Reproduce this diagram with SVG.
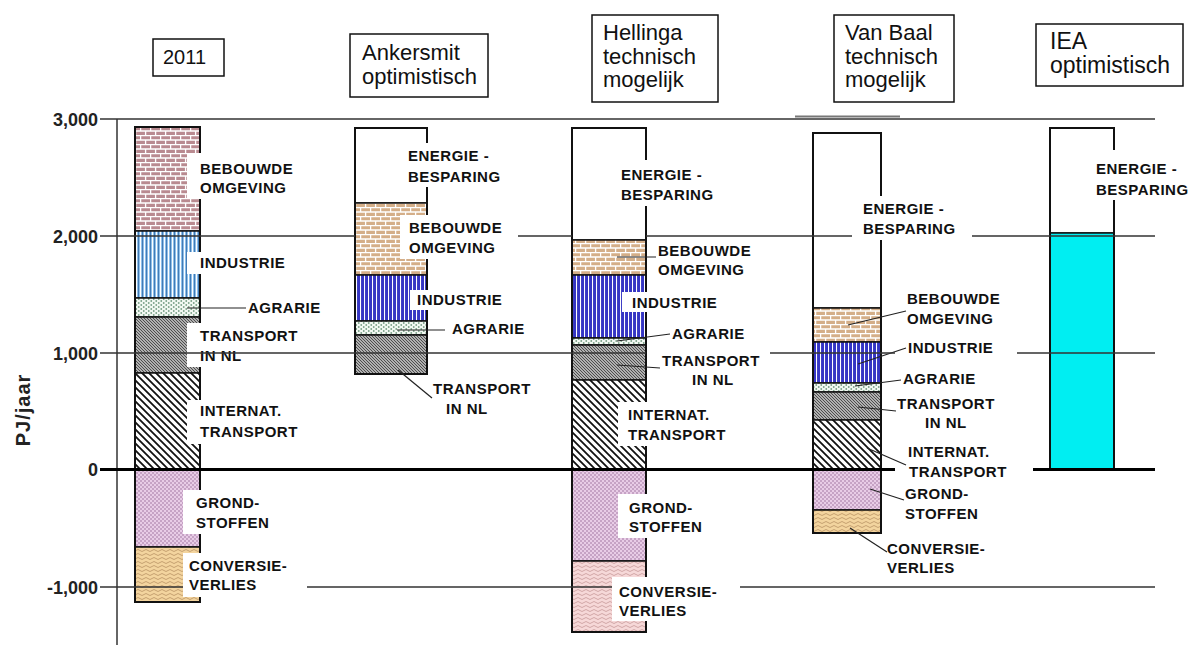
<svg xmlns="http://www.w3.org/2000/svg" width="1195" height="645" viewBox="0 0 1195 645">
<style>
.lb{font-family:"Liberation Sans",Arial,sans-serif;font-weight:bold;font-size:15px;letter-spacing:0.5px;fill:#111}
.hd{font-family:"Liberation Sans",Arial,sans-serif;font-size:22px;fill:#111}
.ax{font-family:"Liberation Sans",Arial,sans-serif;font-weight:bold;font-size:18px;fill:#222;text-anchor:end}
.seg{stroke:#111;stroke-width:1.5}
.out{fill:none;stroke:#111;stroke-width:2}
.box{fill:#fff;stroke:#111;stroke-width:1.5}
.wb{fill:#fff}
.grid{stroke:#333;stroke-width:1.5;fill:none}
.lead{stroke:#222;stroke-width:1.2;fill:none}
</style>
<defs>
<pattern id="brickR" width="10" height="9" patternUnits="userSpaceOnUse"><rect width="10" height="9" fill="#b98a90"/><path d="M0,0.5H10M0,5H10M0.6,0V4.5M5.6,4.5V9" stroke="#fff" stroke-width="1.3"/></pattern>
<pattern id="brickT" width="10" height="9" patternUnits="userSpaceOnUse"><rect width="10" height="9" fill="#d4ae88"/><path d="M0,0.5H10M0,5H10M0.6,0V4.5M5.6,4.5V9" stroke="#fff" stroke-width="1.3"/></pattern>
<pattern id="indL" width="4" height="4" patternUnits="userSpaceOnUse"><rect width="4" height="4" fill="#8fc0ea"/><path d="M0.5,0V4" stroke="#fff" stroke-width="1"/><path d="M2.5,0V4" stroke="#2f6aa8" stroke-width="0.8"/></pattern>
<pattern id="indB" width="4" height="4" patternUnits="userSpaceOnUse"><rect width="4" height="4" fill="#3535c4"/><path d="M0.5,0V4" stroke="#fff" stroke-width="1.1"/></pattern>
<pattern id="agr" width="5" height="4" patternUnits="userSpaceOnUse"><rect width="5" height="4" fill="#f2f8f2"/><circle cx="1.25" cy="1" r="0.9" fill="#7aa088"/><circle cx="3.75" cy="3" r="0.9" fill="#7aa088"/></pattern>
<pattern id="tnl" width="3" height="3" patternUnits="userSpaceOnUse"><rect width="3" height="3" fill="#b0b0b0"/><path d="M0,0L3,3M-1,2L1,4M2,-1L4,1" stroke="#333" stroke-width="0.8"/></pattern>
<pattern id="int" width="7" height="7" patternUnits="userSpaceOnUse"><rect width="7" height="7" fill="#fff"/><path d="M0,0L7,7M-1,6L1,8M6,-1L8,1" stroke="#111" stroke-width="1.8"/></pattern>
<pattern id="gr" width="4" height="4" patternUnits="userSpaceOnUse"><rect width="4" height="4" fill="#e8cce6"/><circle cx="1" cy="1" r="0.7" fill="#8a5a8a"/><circle cx="3" cy="3" r="0.7" fill="#8a5a8a"/></pattern>
<pattern id="convT" width="8" height="4" patternUnits="userSpaceOnUse"><rect width="8" height="4" fill="#f3d49e"/><path d="M0,2.5Q2,0.5 4,2.5T8,2.5" fill="none" stroke="#b08a5a" stroke-width="0.7"/></pattern>
<pattern id="convP" width="8" height="4" patternUnits="userSpaceOnUse"><rect width="8" height="4" fill="#f6d8d8"/><path d="M0,2.5Q2,0.5 4,2.5T8,2.5" fill="none" stroke="#c09090" stroke-width="0.7"/></pattern>
</defs>
<rect width="1195" height="645" fill="#fff"/>

<!-- headers -->
<g id="hdr-2011"><rect class="box" x="153" y="39" width="71" height="37"/><text class="hd" x="163" y="64" style="font-size:20px">2011</text></g>
<g id="hdr-ankersmit"><rect class="box" x="350" y="34" width="138" height="63"/><text class="hd" x="362" y="60">Ankersmit</text><text class="hd" x="362" y="84">optimistisch</text></g>
<g id="hdr-hellinga"><rect class="box" x="592" y="15" width="126" height="87"/><text class="hd" x="603" y="40">Hellinga</text><text class="hd" x="603" y="64">technisch</text><text class="hd" x="603" y="87">mogelijk</text></g>
<g id="hdr-vanbaal"><rect class="box" x="834" y="15" width="120" height="87"/><text class="hd" x="845" y="40">Van Baal</text><text class="hd" x="845" y="64">technisch</text><text class="hd" x="845" y="87">mogelijk</text></g>
<g id="hdr-iea"><rect class="box" x="1036" y="24" width="147" height="62"/><text class="hd" x="1050" y="49" style="font-size:23px">IEA</text><text class="hd" x="1050" y="73" style="font-size:23px">optimistisch</text></g>

<!-- bars -->
<g id="bar-2011">
<rect class="seg" x="135" y="127" width="65" height="104" fill="url(#brickR)"/>
<rect class="seg" x="135" y="231" width="65" height="67" fill="url(#indL)"/>
<rect class="seg" x="135" y="298" width="65" height="19" fill="url(#agr)"/>
<rect class="seg" x="135" y="317" width="65" height="56" fill="url(#tnl)"/>
<rect class="seg" x="135" y="373" width="65" height="96" fill="url(#int)"/>
<rect class="seg" x="135" y="469" width="65" height="78" fill="url(#gr)"/>
<rect class="seg" x="135" y="547" width="65" height="55" fill="url(#convT)"/>
<rect class="out" x="135" y="127" width="65" height="475"/>
</g>
<g id="bar-ankersmit">
<rect class="seg" x="355" y="128" width="72" height="75" fill="#fff"/>
<rect class="seg" x="355" y="203" width="72" height="72" fill="url(#brickT)"/>
<rect class="seg" x="355" y="275" width="72" height="46" fill="url(#indB)"/>
<rect class="seg" x="355" y="321" width="72" height="14" fill="url(#agr)"/>
<rect class="seg" x="355" y="335" width="72" height="39" fill="url(#tnl)"/>
<rect class="out" x="355" y="128" width="72" height="246"/>
</g>
<g id="bar-hellinga">
<rect class="seg" x="572" y="128" width="74" height="112" fill="#fff"/>
<rect class="seg" x="572" y="240" width="74" height="35" fill="url(#brickT)"/>
<rect class="seg" x="572" y="275" width="74" height="63" fill="url(#indB)"/>
<rect class="seg" x="572" y="338" width="74" height="7" fill="url(#agr)"/>
<rect class="seg" x="572" y="345" width="74" height="35" fill="url(#tnl)"/>
<rect class="seg" x="572" y="380" width="74" height="89" fill="url(#int)"/>
<rect class="seg" x="572" y="469" width="74" height="92" fill="url(#gr)"/>
<rect class="seg" x="572" y="561" width="74" height="71" fill="url(#convP)"/>
<rect class="out" x="572" y="128" width="74" height="504"/>
</g>
<g id="bar-vanbaal">
<rect class="seg" x="813" y="133" width="68" height="175" fill="#fff"/>
<rect class="seg" x="813" y="308" width="68" height="34" fill="url(#brickT)"/>
<rect class="seg" x="813" y="342" width="68" height="41" fill="url(#indB)"/>
<rect class="seg" x="813" y="383" width="68" height="9" fill="url(#agr)"/>
<rect class="seg" x="813" y="392" width="68" height="28" fill="url(#tnl)"/>
<rect class="seg" x="813" y="420" width="68" height="49" fill="url(#int)"/>
<rect class="seg" x="813" y="469" width="68" height="41" fill="url(#gr)"/>
<rect class="seg" x="813" y="510" width="68" height="23" fill="url(#convT)"/>
<rect class="out" x="813" y="133" width="68" height="400"/>
</g>
<g id="bar-iea">
<rect class="seg" x="1050" y="128" width="64" height="105" fill="#fff"/>
<rect class="seg" x="1050" y="233" width="64" height="236" fill="#00eef2"/>
<rect class="out" x="1050" y="128" width="64" height="341"/>
</g>

<!-- axes and grid -->
<g id="axes">
<line x1="117" y1="119" x2="117" y2="645" stroke="#666" stroke-width="2"/>
<path class="grid" d="M100,119H1155"/>
<path d="M795,116.5H900" stroke="#777" stroke-width="2"/>
<path class="grid" d="M100,236H355M518,236H572M646,236H852M972,236H1155"/>
<path d="M100,469.5H895M1033,469.5H1155" stroke="#000" stroke-width="3"/>
<path class="grid" d="M100,587H183M307,587H612M740,587H1155"/>
<text class="ax" x="98" y="126">3,000</text>
<text class="ax" x="98" y="243">2,000</text>
<text class="ax" x="98" y="360">1,000</text>
<text class="ax" x="98" y="476">0</text>
<text class="ax" x="98" y="594">-1,000</text>
<text x="0" y="0" transform="translate(30,410) rotate(-90)" text-anchor="middle" style="font-family:'Liberation Sans',Arial,sans-serif;font-weight:bold;font-size:20px;letter-spacing:1px;fill:#222">PJ/jaar</text>
</g>

<!-- connectors (leader lines) -->
<g id="connectors">
<path class="lead" d="M187,308H246"/>
<path class="lead" d="M397,330H445"/>
<path class="lead" d="M398,370L432,398"/>
<path class="lead" d="M617,257H656"/>
<path class="lead" d="M617,341L670,334"/>
<path class="lead" d="M617,365L660,368"/>
<path class="lead" d="M848,325L906,311"/>
<path class="lead" d="M858,364L906,348"/>
<path class="lead" d="M855,386L901,380"/>
<path class="lead" d="M858,407L896,411"/>
<path class="lead" d="M867,448L906,465"/>
<path class="lead" d="M870,489L904,500"/>
<path class="lead" d="M850,528L887,552"/>
</g>

<!-- labels -->
<g id="labels-2011">
<rect class="wb" x="187" y="153" width="112" height="46"/>
<text class="lb" x="200" y="174">BEBOUWDE</text><text class="lb" x="200" y="193">OMGEVING</text>
<rect class="wb" x="187" y="252" width="100" height="22"/>
<text class="lb" x="200" y="268">INDUSTRIE</text>
<text class="lb" x="248" y="313">AGRARIE</text>
<rect class="wb" x="187" y="323" width="112" height="44"/>
<text class="lb" x="200" y="341">TRANSPORT</text><text class="lb" x="200" y="361">IN NL</text>
<rect class="wb" x="187" y="400" width="115" height="44"/>
<text class="lb" x="200" y="416">INTERNAT.</text><text class="lb" x="200" y="437">TRANSPORT</text>
<rect class="wb" x="183" y="490" width="92" height="44"/>
<text class="lb" x="196" y="508">GROND-</text><text class="lb" x="196" y="528">STOFFEN</text>
<rect class="wb" x="183" y="553" width="124" height="44"/>
<text class="lb" x="189" y="571">CONVERSIE-</text><text class="lb" x="189" y="590">VERLIES</text>
</g>
<g id="labels-ankersmit">
<rect class="wb" x="403" y="143" width="112" height="44"/>
<text class="lb" x="408" y="161">ENERGIE -</text><text class="lb" x="408" y="182">BESPARING</text>
<rect class="wb" x="400" y="215" width="118" height="44"/>
<text class="lb" x="409" y="233">BEBOUWDE</text><text class="lb" x="409" y="253">OMGEVING</text>
<rect class="wb" x="410" y="290" width="92" height="20"/>
<text class="lb" x="417" y="305">INDUSTRIE</text>
<text class="lb" x="452" y="334">AGRARIE</text>
<text class="lb" x="433" y="394">TRANSPORT</text><text class="lb" x="446" y="414">IN NL</text>
</g>
<g id="labels-hellinga">
<rect class="wb" x="616" y="160" width="112" height="46"/>
<text class="lb" x="621" y="180">ENERGIE -</text><text class="lb" x="621" y="200">BESPARING</text>
<text class="lb" x="658" y="256">BEBOUWDE</text><text class="lb" x="658" y="275">OMGEVING</text>
<rect class="wb" x="622" y="292" width="95" height="20"/>
<text class="lb" x="632" y="308">INDUSTRIE</text>
<text class="lb" x="672" y="339">AGRARIE</text>
<text class="lb" x="662" y="366">TRANSPORT</text><text class="lb" x="692" y="385">IN NL</text>
<rect class="wb" x="618" y="402" width="118" height="44"/>
<text class="lb" x="628" y="420">INTERNAT.</text><text class="lb" x="628" y="440">TRANSPORT</text>
<rect class="wb" x="618" y="494" width="92" height="44"/>
<text class="lb" x="629" y="513">GROND-</text><text class="lb" x="629" y="532">STOFFEN</text>
<rect class="wb" x="612" y="577" width="128" height="44"/>
<text class="lb" x="619" y="597">CONVERSIE-</text><text class="lb" x="619" y="616">VERLIES</text>
</g>
<g id="labels-vanbaal">
<rect class="wb" x="852" y="196" width="120" height="44"/>
<text class="lb" x="863" y="214">ENERGIE -</text><text class="lb" x="863" y="234">BESPARING</text>
<text class="lb" x="907" y="304">BEBOUWDE</text><text class="lb" x="907" y="324">OMGEVING</text>
<text class="lb" x="908" y="353">INDUSTRIE</text>
<text class="lb" x="903" y="384">AGRARIE</text>
<text class="lb" x="897" y="409">TRANSPORT</text><text class="lb" x="925" y="428">IN NL</text>
<text class="lb" x="908" y="457">INTERNAT.</text><text class="lb" x="909" y="477">TRANSPORT</text>
<text class="lb" x="905" y="499">GROND-</text><text class="lb" x="905" y="519">STOFFEN</text>
<text class="lb" x="887" y="554">CONVERSIE-</text><text class="lb" x="887" y="573">VERLIES</text>
</g>
<g id="labels-iea">
<rect class="wb" x="1092" y="150" width="103" height="50"/>
<text class="lb" x="1096" y="174">ENERGIE -</text><text class="lb" x="1096" y="195">BESPARING</text>
</g>

<g id="grid-1000">
<path class="grid" d="M100,353H646M770,353H895M1017,353H1155"/>
</g>
</svg>
